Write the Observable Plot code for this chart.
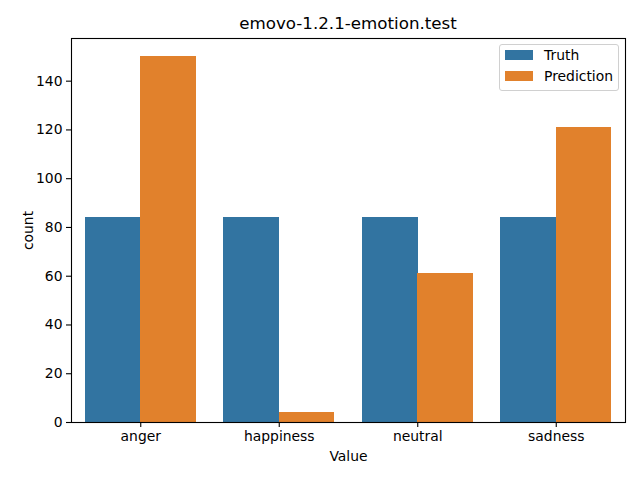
<!DOCTYPE html>
<html><head><meta charset="utf-8">
<script src="https://cdn.jsdelivr.net/npm/d3@7"></script>
<script src="https://cdn.jsdelivr.net/npm/@observablehq/plot@0.6"></script>
<style>
body{margin:0;background:#fff;font-family:"DejaVu Sans",sans-serif;}
#wrap{position:relative;width:640px;height:480px;}
#title{position:absolute;left:71px;width:554px;top:13px;text-align:center;font-size:16.7px;color:#000;}
#legend{position:absolute;left:499px;top:44px;width:118px;height:45px;border:1px solid #d0d0d0;border-radius:3px;background:rgba(255,255,255,0.8);font-size:13.9px;}
.item{position:absolute;left:5px;display:flex;align-items:center;}
.sw{width:28px;height:10px;margin-right:11px;}
</style></head>
<body><div id="wrap"><div id="chart"></div><div id="title"></div><div id="legend"></div></div>
<script>
const title = "emovo-1.2.1-emotion.test";
const categories = ["anger", "happiness", "neutral", "sadness"];
const series = ["Truth", "Prediction"];
const truthCounts = [84, 84, 84, 84];
const predictionCounts = [150, 4, 61, 121];
const yTicks = [0, 20, 40, 60, 80, 100, 120, 140];
const colors = ["#3274a1", "#e1812c"];

const truthData = categories.map((c, i) => ({cat: c, count: truthCounts[i], series: "Truth"}));
const predData = categories.map((c, i) => ({cat: c, count: predictionCounts[i], series: "Prediction"}));

const W = 640, H = 480, mL = 71, mR = 15, mT = 38, mB = 58;
const step = (W - mL - mR) / categories.length;
const half = step * 0.8 / 2;

const plot = Plot.plot({
  width: W, height: H,
  marginLeft: mL, marginRight: mR, marginTop: mT, marginBottom: mB,
  style: {fontFamily: "DejaVu Sans, sans-serif", fontSize: "13.9px", color: "#000", background: "#fff"},
  x: {domain: categories, paddingInner: 0.2, paddingOuter: 0.1, round: false},
  y: {domain: [0, 157.5]},
  color: {domain: series, range: colors},
  marks: [
    Plot.barY(truthData, {x: "cat", y: "count", fill: "series", insetLeft: 0, insetRight: half - 0.3, shapeRendering: "crispEdges"}),
    Plot.barY(predData, {x: "cat", y: "count", fill: "series", insetLeft: half, insetRight: 0, shapeRendering: "crispEdges"}),
    Plot.axisY({ticks: yTicks, tickSize: 5, tickPadding: 4, fontSize: 13.9, strokeWidth: 1.1,
      label: "count", labelAnchor: "center", labelArrow: "none", labelOffset: 48}),
    Plot.axisX({tickSize: 5, tickPadding: 4, fontSize: 13.9, strokeWidth: 1.1,
      label: "Value", labelAnchor: "center", labelArrow: "none", labelOffset: 38}),
    Plot.frame({stroke: "#000", strokeWidth: 1.1})
  ]
});
document.getElementById("chart").appendChild(plot);
document.getElementById("title").textContent = title;
const lg = document.getElementById("legend");
series.forEach((s, i) => {
  const d = document.createElement("div");
  d.className = "item";
  d.style.top = (2 + i * 20.5) + "px";
  d.innerHTML = `<div class="sw" style="background:${colors[i]}"></div><span>${s}</span>`;
  lg.appendChild(d);
});
</script></body></html>
